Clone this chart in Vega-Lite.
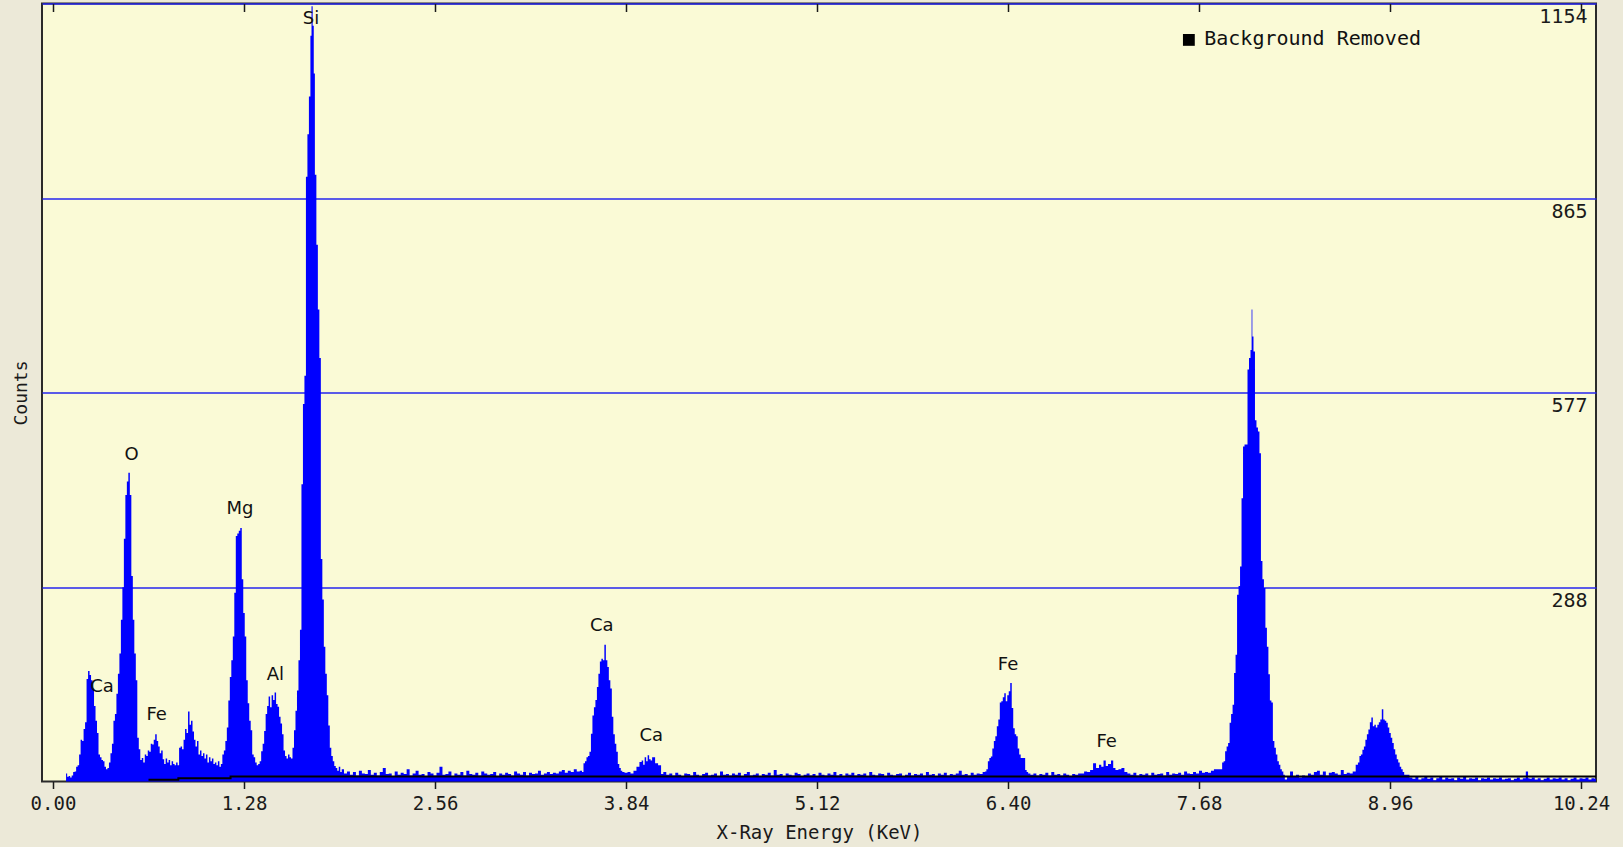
{
"$schema": "https://vega.github.io/schema/vega-lite/v6.json",
"autosize": {"type": "none"},
"width": 1554,
"height": 778,
"padding": {"left": 42, "top": 3.5, "right": 27, "bottom": 65.5},
"background": "#ECE9D8",
"config": {
  "view": {"fill": "#FAFAD6", "stroke": "#2a2a2a", "strokeWidth": 2},
  "axis": {"labelColor": "#1a1a1a", "titleColor": "#1a1a1a", "tickColor": "#1a1a1a", "titleFontWeight": "normal", "labelFont": "DejaVu Sans Mono", "titleFont": "DejaVu Sans Mono"}
},
"datasets": {
  "spec": [
{"e":0.085,"c":0},{"e":0.09,"c":12},{"e":0.10,"c":7},{"e":0.11,"c":8},{"e":0.12,"c":6},{"e":0.13,"c":9},{"e":0.14,"c":14},{"e":0.15,"c":15},{"e":0.16,"c":22},{"e":0.17,"c":24},{"e":0.18,"c":40},{"e":0.19,"c":62},{"e":0.20,"c":60},{"e":0.21,"c":78},{"e":0.22,"c":88},{"e":0.23,"c":152},{"e":0.24,"c":164},{"e":0.25,"c":158},{"e":0.26,"c":150},{"e":0.27,"c":138},{"e":0.28,"c":112},{"e":0.29,"c":90},{"e":0.30,"c":72},{"e":0.31,"c":40},{"e":0.32,"c":36},{"e":0.33,"c":32},{"e":0.34,"c":30},{"e":0.35,"c":22},{"e":0.36,"c":18},{"e":0.37,"c":20},{"e":0.38,"c":28},{"e":0.39,"c":42},{"e":0.40,"c":56},{"e":0.41,"c":90},{"e":0.42,"c":100},{"e":0.43,"c":130},{"e":0.44,"c":160},{"e":0.45,"c":190},{"e":0.46,"c":240},{"e":0.47,"c":288},{"e":0.48,"c":360},{"e":0.49,"c":425},{"e":0.50,"c":445},{"e":0.51,"c":458},{"e":0.52,"c":425},{"e":0.53,"c":305},{"e":0.54,"c":240},{"e":0.55,"c":190},{"e":0.56,"c":150},{"e":0.57,"c":65},{"e":0.58,"c":48},{"e":0.59,"c":32},
{"e":0.60,"c":35},{"e":0.61,"c":28},{"e":0.62,"c":40},{"e":0.63,"c":38},{"e":0.64,"c":46},{"e":0.65,"c":44},{"e":0.66,"c":56},{"e":0.67,"c":55},{"e":0.68,"c":62},{"e":0.69,"c":70},{"e":0.70,"c":60},{"e":0.71,"c":52},{"e":0.72,"c":42},{"e":0.73,"c":46},{"e":0.74,"c":33},{"e":0.75,"c":26},{"e":0.76,"c":34},{"e":0.77,"c":28},{"e":0.78,"c":32},{"e":0.79,"c":24},{"e":0.80,"c":30},{"e":0.81,"c":26},{"e":0.82,"c":24},{"e":0.83,"c":28},{"e":0.84,"c":24},{"e":0.85,"c":50},{"e":0.86,"c":52},{"e":0.87,"c":48},{"e":0.88,"c":62},{"e":0.89,"c":78},{"e":0.90,"c":72},{"e":0.91,"c":104},{"e":0.92,"c":84},{"e":0.93,"c":90},{"e":0.94,"c":74},{"e":0.95,"c":62},{"e":0.96,"c":52},{"e":0.97,"c":60},{"e":0.98,"c":40},{"e":0.99,"c":46},
{"e":1.00,"c":38},{"e":1.01,"c":42},{"e":1.02,"c":34},{"e":1.03,"c":40},{"e":1.04,"c":28},{"e":1.05,"c":36},{"e":1.06,"c":30},{"e":1.07,"c":34},{"e":1.08,"c":26},{"e":1.09,"c":28},{"e":1.10,"c":24},{"e":1.11,"c":30},{"e":1.12,"c":22},{"e":1.13,"c":26},{"e":1.14,"c":40},{"e":1.15,"c":46},{"e":1.16,"c":60},{"e":1.17,"c":80},{"e":1.18,"c":120},{"e":1.19,"c":155},{"e":1.20,"c":180},{"e":1.21,"c":215},{"e":1.22,"c":280},{"e":1.23,"c":364},{"e":1.24,"c":368},{"e":1.25,"c":372},{"e":1.26,"c":376},{"e":1.27,"c":300},{"e":1.28,"c":250},{"e":1.29,"c":215},{"e":1.30,"c":150},{"e":1.31,"c":116},{"e":1.32,"c":90},{"e":1.33,"c":76},{"e":1.34,"c":40},{"e":1.35,"c":36},{"e":1.36,"c":28},{"e":1.37,"c":24},{"e":1.38,"c":26},{"e":1.39,"c":30},
{"e":1.40,"c":45},{"e":1.41,"c":56},{"e":1.42,"c":75},{"e":1.43,"c":100},{"e":1.44,"c":112},{"e":1.45,"c":126},{"e":1.46,"c":110},{"e":1.47,"c":128},{"e":1.48,"c":121},{"e":1.49,"c":132},{"e":1.50,"c":115},{"e":1.51,"c":111},{"e":1.52,"c":96},{"e":1.53,"c":86},{"e":1.54,"c":70},{"e":1.55,"c":46},{"e":1.56,"c":38},{"e":1.57,"c":34},{"e":1.58,"c":40},{"e":1.59,"c":36},{"e":1.60,"c":34},{"e":1.61,"c":50},{"e":1.62,"c":76},{"e":1.63,"c":105},{"e":1.64,"c":135},{"e":1.65,"c":180},{"e":1.66,"c":225},{"e":1.67,"c":441},{"e":1.68,"c":560},{"e":1.69,"c":602},{"e":1.70,"c":897},{"e":1.71,"c":960},{"e":1.72,"c":1016},{"e":1.73,"c":1106},{"e":1.735,"c":1150},{"e":1.745,"c":1121},{"e":1.75,"c":1050},{"e":1.76,"c":900},{"e":1.77,"c":796},{"e":1.78,"c":700},{"e":1.79,"c":628},{"e":1.80,"c":330},{"e":1.81,"c":270},{"e":1.82,"c":200},{"e":1.83,"c":160},{"e":1.84,"c":128},{"e":1.85,"c":83},{"e":1.86,"c":50},{"e":1.87,"c":38},{"e":1.88,"c":30},{"e":1.89,"c":23},{"e":1.90,"c":20},{"e":1.91,"c":16},{"e":1.92,"c":22},{"e":1.93,"c":14},
{"e":1.94,"c":18},{"e":1.96,"c":12},{"e":1.98,"c":15},{"e":2.00,"c":10},{"e":2.02,"c":14},{"e":2.04,"c":9},{"e":2.06,"c":16},{"e":2.08,"c":12},{"e":2.10,"c":11},{"e":2.12,"c":17},{"e":2.14,"c":10},{"e":2.16,"c":13},{"e":2.18,"c":9},{"e":2.20,"c":14},{"e":2.22,"c":20},{"e":2.24,"c":11},{"e":2.26,"c":12},{"e":2.28,"c":8},{"e":2.30,"c":15},{"e":2.32,"c":10},{"e":2.34,"c":13},{"e":2.36,"c":11},{"e":2.38,"c":18},{"e":2.40,"c":9},{"e":2.42,"c":12},{"e":2.44,"c":16},{"e":2.46,"c":10},{"e":2.48,"c":11},{"e":2.50,"c":8},{"e":2.52,"c":14},{"e":2.54,"c":12},{"e":2.56,"c":9},{"e":2.58,"c":13},{"e":2.60,"c":22},{"e":2.62,"c":10},{"e":2.64,"c":11},{"e":2.66,"c":15},{"e":2.68,"c":8},{"e":2.70,"c":12},{"e":2.72,"c":10},{"e":2.74,"c":14},{"e":2.76,"c":9},{"e":2.78,"c":16},{"e":2.80,"c":11},{"e":2.82,"c":10},{"e":2.84,"c":13},{"e":2.86,"c":9},{"e":2.88,"c":15},{"e":2.90,"c":12},{"e":2.92,"c":10},{"e":2.94,"c":11},{"e":2.96,"c":14},{"e":2.98,"c":8},
{"e":3.00,"c":12},{"e":3.02,"c":10},{"e":3.04,"c":13},{"e":3.06,"c":11},{"e":3.08,"c":9},{"e":3.10,"c":15},{"e":3.12,"c":12},{"e":3.14,"c":10},{"e":3.16,"c":14},{"e":3.18,"c":9},{"e":3.20,"c":13},{"e":3.22,"c":11},{"e":3.24,"c":12},{"e":3.26,"c":16},{"e":3.28,"c":10},{"e":3.30,"c":12},{"e":3.32,"c":14},{"e":3.34,"c":11},{"e":3.36,"c":13},{"e":3.38,"c":12},{"e":3.40,"c":15},{"e":3.42,"c":17},{"e":3.44,"c":13},{"e":3.46,"c":16},{"e":3.48,"c":14},{"e":3.50,"c":18},{"e":3.52,"c":15},{"e":3.54,"c":16},
{"e":3.55,"c":14},{"e":3.56,"c":27},{"e":3.57,"c":30},{"e":3.58,"c":36},{"e":3.59,"c":38},{"e":3.60,"c":44},{"e":3.61,"c":71},{"e":3.62,"c":98},{"e":3.63,"c":110},{"e":3.64,"c":121},{"e":3.65,"c":140},{"e":3.66,"c":160},{"e":3.67,"c":178},{"e":3.68,"c":182},{"e":3.69,"c":180},{"e":3.70,"c":203},{"e":3.71,"c":180},{"e":3.72,"c":170},{"e":3.73,"c":150},{"e":3.74,"c":138},{"e":3.75,"c":96},{"e":3.76,"c":70},{"e":3.77,"c":56},{"e":3.78,"c":44},{"e":3.79,"c":26},{"e":3.80,"c":20},{"e":3.81,"c":16},{"e":3.82,"c":14},{"e":3.84,"c":13},{"e":3.86,"c":14},{"e":3.88,"c":12},{"e":3.90,"c":16},{"e":3.92,"c":22},{"e":3.94,"c":29},{"e":3.95,"c":31},{"e":3.96,"c":25},{"e":3.97,"c":36},{"e":3.98,"c":30},{"e":3.99,"c":39},{"e":4.00,"c":33},{"e":4.01,"c":31},{"e":4.02,"c":36},{"e":4.03,"c":36},{"e":4.04,"c":27},{"e":4.05,"c":27},{"e":4.06,"c":24},{"e":4.07,"c":24},{"e":4.08,"c":11},{"e":4.10,"c":14},{"e":4.12,"c":10},
{"e":4.14,"c":12},{"e":4.16,"c":9},{"e":4.18,"c":13},{"e":4.20,"c":10},{"e":4.22,"c":8},{"e":4.24,"c":12},{"e":4.26,"c":11},{"e":4.28,"c":9},{"e":4.30,"c":14},{"e":4.32,"c":10},{"e":4.34,"c":8},{"e":4.36,"c":11},{"e":4.38,"c":13},{"e":4.40,"c":9},{"e":4.42,"c":10},{"e":4.44,"c":12},{"e":4.46,"c":8},{"e":4.48,"c":15},{"e":4.50,"c":10},{"e":4.52,"c":11},{"e":4.54,"c":9},{"e":4.56,"c":12},{"e":4.58,"c":10},{"e":4.60,"c":13},{"e":4.62,"c":8},{"e":4.64,"c":11},{"e":4.66,"c":14},{"e":4.68,"c":9},{"e":4.70,"c":10},{"e":4.72,"c":12},{"e":4.74,"c":8},{"e":4.76,"c":11},{"e":4.78,"c":10},{"e":4.80,"c":13},{"e":4.82,"c":9},{"e":4.84,"c":17},{"e":4.86,"c":10},{"e":4.88,"c":11},{"e":4.90,"c":8},{"e":4.92,"c":12},{"e":4.94,"c":10},{"e":4.96,"c":9},{"e":4.98,"c":13},
{"e":5.00,"c":11},{"e":5.02,"c":8},{"e":5.04,"c":10},{"e":5.06,"c":12},{"e":5.08,"c":9},{"e":5.10,"c":11},{"e":5.12,"c":8},{"e":5.14,"c":13},{"e":5.16,"c":10},{"e":5.18,"c":9},{"e":5.20,"c":12},{"e":5.22,"c":10},{"e":5.24,"c":14},{"e":5.26,"c":9},{"e":5.28,"c":11},{"e":5.30,"c":8},{"e":5.32,"c":12},{"e":5.34,"c":10},{"e":5.36,"c":13},{"e":5.38,"c":9},{"e":5.40,"c":11},{"e":5.42,"c":10},{"e":5.44,"c":12},{"e":5.46,"c":8},{"e":5.48,"c":14},{"e":5.50,"c":10},{"e":5.52,"c":9},{"e":5.54,"c":12},{"e":5.56,"c":11},{"e":5.58,"c":8},{"e":5.60,"c":13},{"e":5.62,"c":10},{"e":5.64,"c":9},{"e":5.66,"c":11},{"e":5.68,"c":12},{"e":5.70,"c":8},{"e":5.72,"c":10},{"e":5.74,"c":13},{"e":5.76,"c":9},{"e":5.78,"c":11},{"e":5.80,"c":10},{"e":5.82,"c":12},{"e":5.84,"c":9},{"e":5.86,"c":14},{"e":5.88,"c":10},{"e":5.90,"c":11},{"e":5.92,"c":8},{"e":5.94,"c":12},{"e":5.96,"c":10},{"e":5.98,"c":13},
{"e":6.00,"c":9},{"e":6.02,"c":11},{"e":6.04,"c":10},{"e":6.06,"c":12},{"e":6.08,"c":16},{"e":6.10,"c":10},{"e":6.12,"c":11},{"e":6.14,"c":9},{"e":6.16,"c":13},{"e":6.18,"c":10},{"e":6.20,"c":12},{"e":6.22,"c":11},{"e":6.24,"c":14},
{"e":6.25,"c":15},{"e":6.26,"c":18},{"e":6.27,"c":30},{"e":6.28,"c":35},{"e":6.29,"c":37},{"e":6.30,"c":49},{"e":6.31,"c":60},{"e":6.32,"c":67},{"e":6.33,"c":82},{"e":6.34,"c":92},{"e":6.35,"c":117},{"e":6.36,"c":119},{"e":6.37,"c":125},{"e":6.38,"c":131},{"e":6.39,"c":119},{"e":6.40,"c":128},{"e":6.41,"c":134},{"e":6.42,"c":146},{"e":6.43,"c":109},{"e":6.44,"c":79},{"e":6.45,"c":70},{"e":6.46,"c":67},{"e":6.47,"c":49},{"e":6.48,"c":40},{"e":6.49,"c":35},{"e":6.50,"c":35},{"e":6.51,"c":35},{"e":6.52,"c":17},{"e":6.53,"c":14},{"e":6.54,"c":12},{"e":6.56,"c":10},{"e":6.58,"c":12},{"e":6.60,"c":9},{"e":6.62,"c":11},{"e":6.64,"c":10},{"e":6.66,"c":13},{"e":6.68,"c":9},{"e":6.70,"c":14},{"e":6.72,"c":10},{"e":6.74,"c":11},{"e":6.76,"c":9},{"e":6.78,"c":12},{"e":6.80,"c":10},{"e":6.82,"c":8},{"e":6.84,"c":11},{"e":6.86,"c":10},{"e":6.88,"c":12},{"e":6.90,"c":12},{"e":6.92,"c":15},{"e":6.94,"c":14},{"e":6.96,"c":17},{"e":6.98,"c":27},
{"e":7.00,"c":20},{"e":7.02,"c":25},{"e":7.03,"c":22},{"e":7.05,"c":31},{"e":7.06,"c":23},{"e":7.08,"c":26},{"e":7.10,"c":31},{"e":7.11,"c":20},{"e":7.13,"c":17},{"e":7.15,"c":18},{"e":7.17,"c":20},{"e":7.19,"c":14},{"e":7.21,"c":12},{"e":7.23,"c":10},{"e":7.25,"c":13},{"e":7.27,"c":9},{"e":7.29,"c":11},{"e":7.31,"c":10},{"e":7.33,"c":12},{"e":7.35,"c":9},{"e":7.37,"c":13},{"e":7.39,"c":10},{"e":7.41,"c":11},{"e":7.43,"c":12},{"e":7.45,"c":9},{"e":7.47,"c":14},{"e":7.49,"c":10},{"e":7.51,"c":12},{"e":7.53,"c":11},{"e":7.55,"c":13},{"e":7.57,"c":10},{"e":7.59,"c":15},{"e":7.61,"c":12},{"e":7.63,"c":11},{"e":7.65,"c":14},{"e":7.67,"c":12},{"e":7.69,"c":16},{"e":7.71,"c":13},{"e":7.73,"c":14},{"e":7.75,"c":13},{"e":7.77,"c":16},{"e":7.79,"c":18},{"e":7.81,"c":18},{"e":7.83,"c":18},
{"e":7.84,"c":28},{"e":7.85,"c":30},{"e":7.86,"c":45},{"e":7.87,"c":52},{"e":7.88,"c":57},{"e":7.89,"c":87},{"e":7.90,"c":100},{"e":7.91,"c":114},{"e":7.92,"c":161},{"e":7.93,"c":188},{"e":7.94,"c":277},{"e":7.95,"c":290},{"e":7.96,"c":319},{"e":7.97,"c":420},{"e":7.98,"c":497},{"e":7.99,"c":500},{"e":8.00,"c":500},{"e":8.01,"c":611},{"e":8.02,"c":628},{"e":8.03,"c":640},{"e":8.035,"c":700},{"e":8.04,"c":660},{"e":8.05,"c":638},{"e":8.06,"c":536},{"e":8.07,"c":525},{"e":8.08,"c":519},{"e":8.09,"c":487},{"e":8.10,"c":327},{"e":8.11,"c":300},{"e":8.12,"c":287},{"e":8.13,"c":228},{"e":8.14,"c":200},{"e":8.15,"c":159},{"e":8.16,"c":120},{"e":8.17,"c":117},{"e":8.18,"c":60},{"e":8.19,"c":50},{"e":8.20,"c":40},{"e":8.21,"c":30},{"e":8.22,"c":25},{"e":8.23,"c":18},{"e":8.24,"c":15},{"e":8.25,"c":10},{"e":8.26,"c":3},{"e":8.28,"c":8},{"e":8.30,"c":15},{"e":8.32,"c":8},{"e":8.34,"c":10},{"e":8.36,"c":6},{"e":8.38,"c":9},{"e":8.40,"c":8},{"e":8.42,"c":12},{"e":8.44,"c":10},{"e":8.46,"c":14},{"e":8.48,"c":16},{"e":8.50,"c":10},{"e":8.52,"c":15},{"e":8.54,"c":9},{"e":8.56,"c":13},{"e":8.58,"c":14},{"e":8.60,"c":12},{"e":8.62,"c":10},{"e":8.64,"c":17},{"e":8.66,"c":11},{"e":8.68,"c":13},{"e":8.70,"c":12},{"e":8.72,"c":15},{"e":8.74,"c":25},
{"e":8.75,"c":28},{"e":8.76,"c":38},{"e":8.77,"c":40},{"e":8.78,"c":47},{"e":8.79,"c":52},{"e":8.80,"c":62},{"e":8.81,"c":70},{"e":8.82,"c":77},{"e":8.83,"c":88},{"e":8.84,"c":95},{"e":8.85,"c":82},{"e":8.86,"c":84},{"e":8.87,"c":80},{"e":8.88,"c":84},{"e":8.89,"c":88},{"e":8.90,"c":92},{"e":8.91,"c":107},{"e":8.92,"c":92},{"e":8.93,"c":90},{"e":8.94,"c":87},{"e":8.95,"c":80},{"e":8.96,"c":72},{"e":8.97,"c":65},{"e":8.98,"c":57},{"e":8.99,"c":48},{"e":9.00,"c":40},{"e":9.01,"c":33},{"e":9.02,"c":28},{"e":9.03,"c":22},{"e":9.04,"c":18},{"e":9.05,"c":14},{"e":9.06,"c":10},{"e":9.08,"c":10},{"e":9.10,"c":6},
{"e":9.12,"c":4},{"e":9.14,"c":7},{"e":9.16,"c":3},{"e":9.18,"c":5},{"e":9.20,"c":8},{"e":9.22,"c":4},{"e":9.24,"c":6},{"e":9.26,"c":2},{"e":9.28,"c":5},{"e":9.30,"c":7},{"e":9.32,"c":3},{"e":9.34,"c":6},{"e":9.36,"c":4},{"e":9.38,"c":5},{"e":9.40,"c":2},{"e":9.42,"c":6},{"e":9.44,"c":4},{"e":9.46,"c":7},{"e":9.48,"c":3},{"e":9.50,"c":5},{"e":9.52,"c":4},{"e":9.54,"c":6},{"e":9.56,"c":2},{"e":9.58,"c":5},{"e":9.60,"c":4},{"e":9.62,"c":6},{"e":9.64,"c":3},{"e":9.66,"c":5},{"e":9.68,"c":4},{"e":9.70,"c":6},{"e":9.72,"c":3},{"e":9.74,"c":4},{"e":9.76,"c":5},{"e":9.78,"c":2},{"e":9.80,"c":4},{"e":9.82,"c":6},{"e":9.84,"c":3},{"e":9.86,"c":5},{"e":9.88,"c":15},{"e":9.89,"c":5},{"e":9.90,"c":4},{"e":9.92,"c":6},{"e":9.94,"c":3},{"e":9.96,"c":5},{"e":9.98,"c":2},
{"e":10.00,"c":4},{"e":10.02,"c":6},{"e":10.04,"c":3},{"e":10.06,"c":5},{"e":10.08,"c":4},{"e":10.10,"c":6},{"e":10.12,"c":3},{"e":10.14,"c":5},{"e":10.16,"c":2},{"e":10.18,"c":4},{"e":10.20,"c":6},{"e":10.22,"c":3},{"e":10.24,"c":5},{"e":10.26,"c":4},{"e":10.28,"c":6},{"e":10.30,"c":3},{"e":10.32,"c":5},{"e":10.34,"c":4}
  ],
  "bg": [{"e":0.64,"c":2.5},{"e":0.84,"c":5},{"e":1.19,"c":7.5},{"e":10.34,"c":7.5}],
  "lab": [
    {"e":1.729,"c":1131,"t":"Si"},
    {"e":0.527,"c":484,"t":"O"},
    {"e":1.253,"c":404,"t":"Mg"},
    {"e":1.490,"c":158,"t":"Al"},
    {"e":0.328,"c":140,"t":"Ca"},
    {"e":0.695,"c":98,"t":"Fe"},
    {"e":3.677,"c":231,"t":"Ca"},
    {"e":4.009,"c":68,"t":"Ca"},
    {"e":6.400,"c":173,"t":"Fe"},
    {"e":7.061,"c":59,"t":"Fe"}
  ],
  "leg": [{"e":7.612,"c":1100,"te":7.715,"tc":1102,"t":"Background Removed"}]
},
"layer": [
  {
    "data": {"name": "spec"},
    "mark": {"type": "area", "interpolate": "step", "color": "#0000ff", "opacity": 1},
    "encoding": {
      "x": {"field": "e", "type": "quantitative",
        "scale": {"domain": [-0.0737, 10.3404], "nice": false, "zero": false},
        "axis": {"orient": "bottom", "values": [0, 1.28, 2.56, 3.84, 5.12, 6.4, 7.68, 8.96, 10.24], "format": ".2f", "grid": false, "domain": false, "tickSize": 7, "tickWidth": 1.5, "labelFontSize": 19, "labelPadding": 6, "labelFlush": false, "title": "X-Ray Energy (KeV)", "titleFontSize": 19, "titlePadding": 10}},
      "y": {"field": "c", "type": "quantitative",
        "scale": {"domain": [0, 1154], "nice": false, "zero": true},
        "axis": {"orient": "right", "values": [288.5, 577, 865.5, 1154], "labelExpr": "floor(datum.value)", "ticks": false, "tickSize": 0, "domain": false, "grid": true, "gridColor": "#2424ee", "gridWidth": 1.6, "gridOpacity": 1, "labelAlign": "right", "labelBaseline": "middle", "labelPadding": -9, "labelOffset": 13, "labelFontSize": 20, "labelFlush": false, "labelOverlap": false, "title": null}}
    }
  },
  {
    "data": {"name": "bg"},
    "mark": {"type": "line", "interpolate": "step-after", "color": "#000000", "strokeWidth": 2},
    "encoding": {
      "x": {"field": "e", "type": "quantitative",
        "axis": {"orient": "top", "values": [0, 1.28, 2.56, 3.84, 5.12, 6.4, 7.68, 8.96, 10.24], "labels": false, "grid": false, "domain": false, "tickSize": 8, "tickWidth": 1.5, "offset": -8, "title": null}},
      "y": {"field": "c", "type": "quantitative",
        "axis": {"orient": "left", "labels": false, "ticks": false, "tickSize": 0, "grid": false, "domain": false, "title": "Counts", "titleFontSize": 18, "titlePadding": 12}}
    }
  },
  {
    "data": {"name": "lab"},
    "mark": {"type": "text", "font": "DejaVu Sans", "fontSize": 18, "color": "#111111", "align": "center", "baseline": "middle"},
    "encoding": {
      "x": {"field": "e", "type": "quantitative", "axis": null},
      "y": {"field": "c", "type": "quantitative", "axis": null},
      "text": {"field": "t"}
    }
  },
  {
    "data": {"name": "leg"},
    "mark": {"type": "square", "filled": true, "color": "#000000", "size": 140, "opacity": 1},
    "encoding": {
      "x": {"field": "e", "type": "quantitative", "axis": null},
      "y": {"field": "c", "type": "quantitative", "axis": null}
    }
  },
  {
    "data": {"name": "leg"},
    "mark": {"type": "text", "font": "DejaVu Sans Mono", "fontSize": 20, "color": "#111111", "align": "left", "baseline": "middle"},
    "encoding": {
      "x": {"field": "te", "type": "quantitative", "axis": null},
      "y": {"field": "tc", "type": "quantitative", "axis": null},
      "text": {"field": "t"}
    }
  }
],
"resolve": {"axis": {"x": "independent", "y": "independent"}}
}
